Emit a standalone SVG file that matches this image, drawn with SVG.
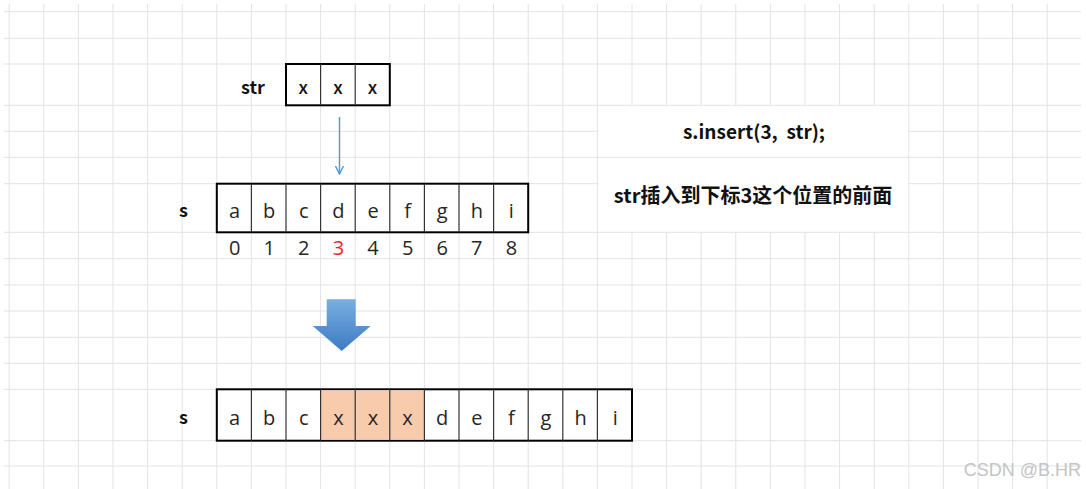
<svg xmlns="http://www.w3.org/2000/svg" width="1086" height="489" viewBox="0 0 1086 489">
<defs>
<style>
.grid{fill:none;stroke:#e3e3e3;stroke-width:1}
.box{fill:#fff;stroke:#000;stroke-width:2}
.div{fill:none;stroke:#333;stroke-width:1.2}
.hl{fill:#f8cbad}
.lbl{font-family:"Noto Sans CJK SC","Microsoft YaHei",sans-serif;font-weight:700;font-size:18px;fill:#111;text-anchor:middle}
.sx{font-family:"Noto Sans CJK SC","Microsoft YaHei",sans-serif;font-weight:500;font-size:18px;fill:#111;text-anchor:middle}
.cell{font-family:"Open Sans","Noto Sans",sans-serif;font-weight:400;font-size:20px;fill:#262626;text-anchor:middle}
.red{fill:#ee2424}
.note{font-family:"Noto Sans CJK SC","Microsoft YaHei",sans-serif;font-weight:700;font-size:19px;fill:#111;text-anchor:middle;white-space:pre}
.desc{font-size:20px}
.wm{font-family:"Liberation Sans",Arial,sans-serif;font-size:18px;fill:#c4c4c4;text-anchor:end}
</style>
<linearGradient id="blk" x1="0" y1="0" x2="0" y2="1">
<stop offset="0" stop-color="#7aaee0"/>
<stop offset="1" stop-color="#3b7cc3"/>
</linearGradient>
<marker id="vhead" viewBox="0 0 10 10" refX="9" refY="5" markerWidth="10" markerHeight="10" markerUnits="userSpaceOnUse" orient="auto">
<path d="M1 1L9 5L1 9" fill="none" stroke="#5b9bd5" stroke-width="1.5"/>
</marker>
</defs>
<rect width="1086" height="489" fill="#fff"/>
<g id="grid">
<path class="grid" d="M4 11.7H1081M4 38.3H1081M4 64H1081M4 105.3H1081M4 157.3H1081M4 232.3H1081M4 258.7H1081M4 285H1081M4 311H1081M4 337.3H1081M4 363.3H1081M4 389.3H1081M4 440.7H1081M4 466H1081M4 131.3H597.4M908.8 131.3H1081M4 183.7H597.4M908.8 183.7H1081"/>
<path class="grid" d="M9.2 4V489M43.8 4V489M78.4 4V489M113 4V489M147.6 4V489M182.2 4V489M216.8 4V489M251.4 4V489M286 4V489M320.6 4V489M355.2 4V489M389.8 4V489M424.4 4V489M459 4V489M493.6 4V489M528.2 4V489M562.8 4V489M597.4 4V489M908.8 4V489M943.4 4V489M978 4V489M1012.6 4V489M1047.2 4V489M632 4V105.3M666.6 4V105.3M701.2 4V105.3M735.8 4V105.3M770.4 4V105.3M805 4V105.3M839.6 4V105.3M874.2 4V105.3M632 232.3V489M666.6 232.3V489M701.2 232.3V489M735.8 232.3V489M770.4 232.3V489M805 232.3V489M839.6 232.3V489M874.2 232.3V489"/>
</g>
<g id="str-label"><text class="lbl" x="253" y="94">str</text></g>
<g id="str-box">
<rect class="box" x="286" y="64" width="103.8" height="41.3"/>
<path class="div" d="M320.6 64V105.3M355.2 64V105.3"/>
<text class="sx" x="303.3" y="94">x</text>
<text class="sx" x="337.9" y="94">x</text>
<text class="sx" x="372.5" y="94">x</text>
</g>
<g id="s-label"><text class="lbl" x="183.5" y="217">s</text></g>
<g id="s-box">
<rect class="box" x="216.8" y="183.7" width="311.4" height="48.6"/>
<path class="div" d="M251.4 183.7V232.3M286 183.7V232.3M320.6 183.7V232.3M355.2 183.7V232.3M389.8 183.7V232.3M424.4 183.7V232.3M459 183.7V232.3M493.6 183.7V232.3"/>
<text class="cell" x="234.6" y="218">a</text>
<text class="cell" x="269.2" y="218">b</text>
<text class="cell" x="303.8" y="218">c</text>
<text class="cell" x="338.4" y="218">d</text>
<text class="cell" x="373" y="218">e</text>
<text class="cell" x="407.6" y="218">f</text>
<text class="cell" x="442.2" y="218">g</text>
<text class="cell" x="476.8" y="218">h</text>
<text class="cell" x="511.4" y="218">i</text>
</g>
<g id="s-index">
<text class="cell" x="234.6" y="255">0</text>
<text class="cell" x="269.2" y="255">1</text>
<text class="cell" x="303.8" y="255">2</text>
<text class="cell red" x="338.4" y="255">3</text>
<text class="cell" x="373" y="255">4</text>
<text class="cell" x="407.6" y="255">5</text>
<text class="cell" x="442.2" y="255">6</text>
<text class="cell" x="476.8" y="255">7</text>
<text class="cell" x="511.4" y="255">8</text>
</g>
<g id="result-label"><text class="lbl" x="183.5" y="424">s</text></g>
<g id="result-box">
<rect class="box" x="216.8" y="389.3" width="415.2" height="51.4"/>
<rect class="hl" x="320.6" y="390.3" width="103.8" height="49.4"/>
<path class="div" d="M251.4 389.3V440.7M286 389.3V440.7M320.6 389.3V440.7M355.2 389.3V440.7M389.8 389.3V440.7M424.4 389.3V440.7M459 389.3V440.7M493.6 389.3V440.7M528.2 389.3V440.7M562.8 389.3V440.7M597.4 389.3V440.7"/>
<text class="cell" x="234.6" y="425">a</text>
<text class="cell" x="269.2" y="425">b</text>
<text class="cell" x="303.8" y="425">c</text>
<text class="cell" x="338.4" y="425">x</text>
<text class="cell" x="373" y="425">x</text>
<text class="cell" x="407.6" y="425">x</text>
<text class="cell" x="442.2" y="425">d</text>
<text class="cell" x="476.8" y="425">e</text>
<text class="cell" x="511.4" y="425">f</text>
<text class="cell" x="546" y="425">g</text>
<text class="cell" x="580.6" y="425">h</text>
<text class="cell" x="615.2" y="425">i</text>
</g>
<g id="connectors">
<line x1="339.5" y1="117" x2="339.5" y2="174" stroke="#5b9bd5" stroke-width="1.5" marker-end="url(#vhead)"/>
<polygon points="326.7,299.3 355.7,299.3 355.7,326 370.7,326 341.7,351 312.7,326 326.7,326" fill="url(#blk)"/>
</g>
<g id="insert-code"><text class="note" x="754" y="139" xml:space="preserve">s.insert(3,  str);</text></g>
<g id="insert-desc"><text class="note desc" x="753" y="203">str插入到下标3这个位置的前面</text></g>
<g id="watermark"><text class="wm" x="1081" y="476">CSDN @B.HR</text></g>
</svg>
